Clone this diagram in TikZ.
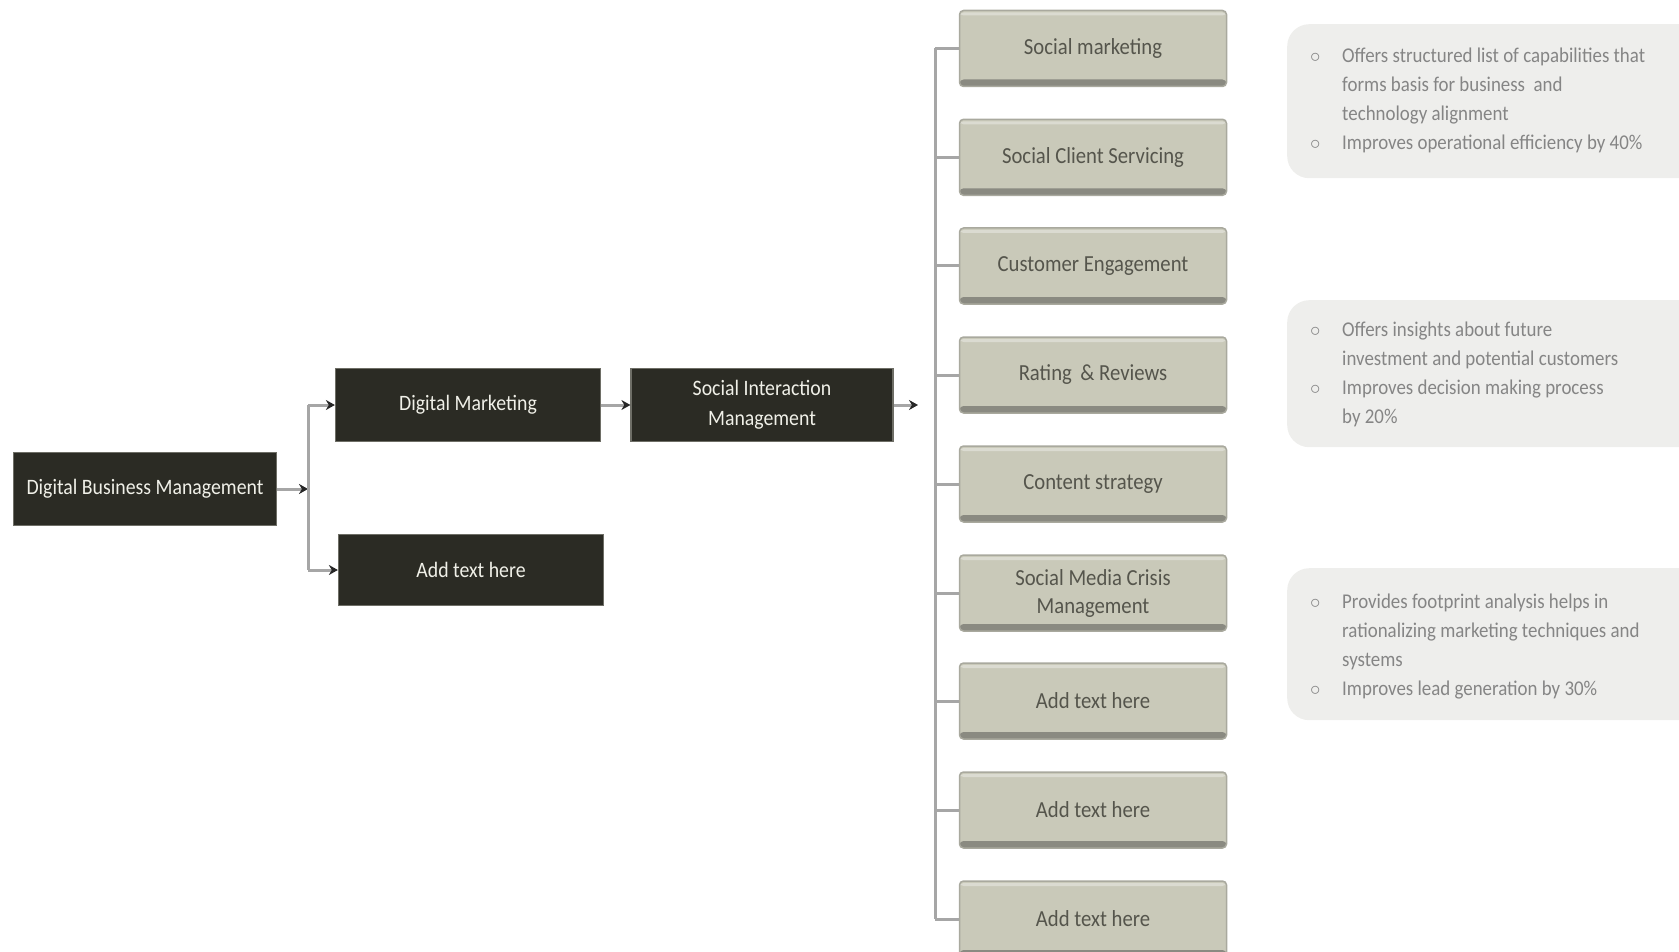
\documentclass[tikz,border=0pt]{standalone}
\usepackage{fontspec}
\setmainfont{Carlito}[FakeStretch=0.9]
\usetikzlibrary{arrows.meta}
\definecolor{darkbox}{HTML}{2B2B24}
\definecolor{darkedge}{HTML}{6E6E66}
\definecolor{darktext}{HTML}{F0F0E8}
\definecolor{greyfill}{HTML}{C9C9B9}
\definecolor{greyedge}{HTML}{A9A99E}
\definecolor{greyband}{HTML}{8A8A81}
\definecolor{greytext}{HTML}{55554C}
\definecolor{linecol}{HTML}{A6A6A6}
\definecolor{infofill}{HTML}{EEEEEC}
\definecolor{infotext}{HTML}{858585}
\begin{document}
\begin{tikzpicture}[x=1pt,y=-1pt,
  darknode/.style={draw=darkedge, line width=1.2pt, fill=darkbox, text=darktext,
    minimum width=263pt, minimum height=73pt, inner sep=0pt, align=center,
    font=\fontsize{22}{30}\selectfont},
  greynode/.style={draw=greyedge, line width=1.5pt, fill=greyfill, text=greytext,
    rounded corners=4pt,
    minimum width=267pt, minimum height=76pt, inner sep=0pt, align=center,
    font=\fontsize{23}{28}\selectfont,
    path picture={\fill[greyband] (path picture bounding box.south west) rectangle ([yshift=7pt]path picture bounding box.south east);
      \fill[white, opacity=0.35] ([yshift=-2pt]path picture bounding box.north west) rectangle ([yshift=-5pt]path picture bounding box.north east);}},
  infobox/.style={fill=infofill, rounded corners=22pt, minimum width=430pt, anchor=north west, inner sep=0pt},
  infotxt/.style={text=infotext, anchor=base west, inner sep=0pt, align=left,
    font=\fontsize{21}{29}\selectfont},
  linkline/.style={draw=linecol, line width=3pt},
  arrline/.style={draw=linecol, line width=3pt, -{Stealth[length=9pt,width=10pt,color=black!85]}}
]
\useasboundingbox (0,0) rectangle (1679,952);
\clip (0,0) rectangle (1679,952);

% left dark nodes
\node[darknode] (dbm) at (145,489) {Digital Business Management};
\node[darknode, minimum width=265pt] (dm) at (468,405) {Digital Marketing};
\node[darknode, minimum width=265pt, minimum height=71pt] (add1) at (471,570) {Add text here};
\node[darknode, minimum width=262pt] (sim) at (762,405) {Social Interaction\\Management};

\coordinate (v1) at (308,489);
\draw[arrline] (dbm.east) -- (v1);
\draw[linkline] (v1 |- dm.west) -- (v1 |- add1.west);
\draw[arrline] (v1 |- dm.west) -- (dm.west);
\draw[arrline] (v1 |- add1.west) -- (add1.west);
\draw[arrline] (dm.east) -- (sim.west);

% grey nodes
\node[greynode] (g1) at (1093,48.5) {Social marketing};
\node[greynode] (g2) at (1093,157.3) {Social Client Servicing};
\node[greynode] (g3) at (1093,266) {Customer Engagement};
\node[greynode] (g4) at (1093,375) {Rating \,\& Reviews};
\node[greynode] (g5) at (1093,484) {Content strategy};
\node[greynode] (g6) at (1093,593) {Social Media Crisis\\Management};
\node[greynode] (g7) at (1093,701) {Add text here};
\node[greynode] (g8) at (1093,810) {Add text here};
\node[greynode] (g9) at (1093,919) {Add text here};

\coordinate (j2) at (918,405);
\coordinate (v2) at (935,405);
\draw[arrline] (sim.east) -- (j2);
\draw[linkline] (v2 |- g1.west) -- (v2 |- g9.west);
\foreach \g in {g1,g2,g3,g4,g5,g6,g7,g8,g9}
  \draw[linkline] (v2 |- \g.west) -- (\g.west);

% info boxes
\node[infobox, minimum height=154pt] (b1) at (1287,24) {};
\node[infobox, minimum height=147pt] (b2) at (1287,300) {};
\node[infobox, minimum height=152pt] (b3) at (1287,568) {};

\node[infotxt] (t1) at (1310,63) {\begin{tabular}[t]{@{}p{32pt}@{}l@{}}
$\circ$ & Offers structured list of capabilities that\\
 & forms basis for business \ and\\
 & technology alignment\\
$\circ$ & Improves operational efficiency by 40\%
\end{tabular}};
\node[infotxt] (t2) at (1310,336) {\begin{tabular}[t]{@{}p{32pt}@{}l@{}}
$\circ$ & Offers insights about future\\
 & investment and potential customers\\
$\circ$ & Improves decision making process\\
 & by 20\%
\end{tabular}};
\node[infotxt] (t3) at (1310,608) {\begin{tabular}[t]{@{}p{32pt}@{}l@{}}
$\circ$ & Provides footprint analysis helps in\\
 & rationalizing marketing techniques and\\
 & systems\\
$\circ$ & Improves lead generation by 30\%
\end{tabular}};
\end{tikzpicture}
\end{document}
